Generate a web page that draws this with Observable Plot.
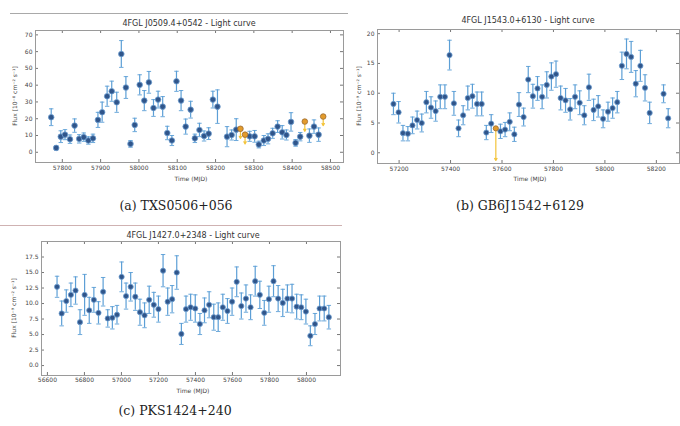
<!DOCTYPE html>
<html>
<head>
<meta charset="utf-8">
<script src="https://cdn.jsdelivr.net/npm/d3@7"></script>
<script src="https://cdn.jsdelivr.net/npm/@observablehq/plot@0.6"></script>
<style>
  html, body { margin: 0; padding: 0; background: #fff; }
  body { width: 680px; height: 426px; position: relative; overflow: hidden; font-family: "DejaVu Sans", sans-serif; }
  .abs { position: absolute; }
  .title { font-size: 8px; color: #333; white-space: nowrap; transform: translate(-50%, -50%); }
  .xlab { font-size: 6px; color: #444; white-space: nowrap; transform: translate(-50%, -50%); }
  .ylab { font-size: 6px; color: #444; white-space: nowrap; transform: translate(-50%, -50%) rotate(-90deg); }
  .cap { font-family: "DejaVu Serif", "Liberation Serif", serif; font-size: 12.5px; color: #222; white-space: nowrap; transform: translate(-50%, -50%); }
  .hline { height: 1px; }
</style>
</head>
<body>
<script>
// ---------- Panel (a): 4FGL J0509.4+0542 ----------
const aTime = [57771,57784,57796,57807,57820,57832,57844,57856,57868,57880,57893,57904,57917,57929,57942,57954,57966,57978,57989,58002,58014,58026,58038,58050,58062,58074,58086,58098,58110,58122,58135,58146,58158,58170,58182,58193,58205,58230,58242,58254,58289,58302,58313,58326,58337,58349,58362,58374,58385,58397,58409,58421,58445,58457,58469];
const aFlux = [20.9,2.6,9.3,10.5,7.8,15.9,8.0,9.0,7.0,8.3,19.3,23.9,33.4,36.4,29.8,58.6,38.6,5.0,16.3,40.2,30.8,41.7,26.4,31.4,27.2,11.5,7.0,42.3,30.8,15.3,25.4,8.3,13.3,9.7,11.1,31.4,27.2,9.3,10.3,13.5,9.5,9.5,4.6,7.0,8.0,11.3,15.3,11.9,10.3,18.1,5.6,9.3,9.9,15.3,10.5];
const aErr  = [5,1.2,3.5,3,2.5,4,2.5,2.5,2.2,2.5,4.5,6,6,6,6,8,6.5,2,4,6,6,6.5,5,5,6,4,3,6,6,4.5,5,2.5,4,3,3.5,5,10,6,3,6.5,3,3.5,2,3,3,3,3.5,4,3,5.5,2,2.5,4,4,4];
const aUlTime = [58265,58277,58433,58481];
const aUlFlux = [14.0,10.5,18.3,21.3];
const aUlEnd  = [8.3,5.0,12.5,15.9];
const aXTicks = [57800,57900,58000,58100,58200,58300,58400,58500];
const aYTicks = [0,10,20,30,40,50,60,70];

// ---------- Panel (b): 4FGL J1543.0+6130 ----------
const bTime = [57178,57198,57215,57234,57252,57270,57288,57306,57324,57342,57360,57378,57396,57413,57431,57449,57467,57485,57503,57521,57539,57558,57594,57612,57630,57648,57666,57684,57702,57720,57738,57756,57774,57792,57810,57828,57847,57865,57884,57902,57920,57938,57956,57974,57993,58012,58030,58048,58066,58084,58102,58120,58138,58156,58174,58228,58246];
const bFlux = [8.2,6.8,3.3,3.2,4.6,5.5,5.0,8.5,7.6,7.0,9.4,9.4,16.4,8.3,4.1,6.3,9.2,9.5,8.2,8.2,3.4,4.9,3.6,3.9,5.2,3.1,8.1,6.0,12.3,9.5,10.8,9.4,11.4,12.8,13.2,9.2,8.8,7.3,9.4,8.4,6.3,11.0,7.2,7.8,5.7,6.9,7.5,8.5,14.6,16.6,16.1,11.6,14.6,10.9,6.7,9.9,5.8];
const bErr  = [1.8,1.8,1.3,1.2,1.4,1.5,1.5,1.8,1.8,1.7,2.0,2.0,2.5,2.0,1.4,1.6,2.0,2.0,2.0,2.0,1.2,1.5,1.2,1.2,1.5,1.2,2.0,1.5,2.2,2.0,2.0,2.0,2.2,2.3,2.2,2.0,2.0,1.8,2.0,2.0,1.6,2.2,1.8,1.8,1.5,1.6,1.7,1.8,2.3,2.5,2.6,2.2,2.6,2.2,1.8,1.5,1.6];
const bUlTime = [57576];
const bUlFlux = [4.1];
const bUlEnd  = [-1.3];
const bXTicks = [57200,57400,57600,57800,58000,58200];
const bYTicks = [0,5,10,15,20];

// ---------- Panel (c): 4FGL J1427.0+2348 ----------
const cTime = [56652,56677,56702,56727,56752,56776,56801,56826,56851,56876,56901,56926,56951,56976,57001,57025,57050,57075,57100,57125,57150,57175,57200,57225,57250,57274,57299,57324,57349,57374,57399,57424,57449,57474,57499,57523,57548,57573,57598,57623,57648,57673,57698,57723,57748,57772,57797,57822,57847,57872,57897,57922,57947,57972,57997,58021,58046,58071,58096,58121];
const cFlux = [12.7,8.4,10.4,11.4,12.1,7.0,11.4,8.9,10.6,8.5,11.9,7.6,7.7,8.2,14.3,11.2,12.7,11.1,8.6,8.1,10.6,9.8,9.1,15.3,10.3,10.7,15.0,5.1,9.1,9.4,9.2,6.7,8.9,9.8,7.8,7.8,9.4,8.8,10.3,13.5,9.6,10.8,9.4,13.6,11.4,8.5,10.7,13.6,10.8,10.1,10.8,10.8,9.5,9.4,8.7,4.8,6.7,9.2,9.2,7.8];
const cErr  = [1.7,2.0,1.8,1.9,2.2,2.0,3.3,2.1,2.0,1.8,2.3,1.4,1.8,1.5,2.4,2.1,2.3,2.2,2.1,2.0,2.2,2.0,2.1,2.6,2.2,2.2,2.7,1.7,2.1,2.1,2.2,1.7,2.0,2.1,2.1,2.3,2.1,2.0,2.2,2.4,2.1,2.2,2.0,2.4,2.2,2.0,2.1,2.5,2.1,2.2,2.2,2.3,2.0,2.0,2.0,1.6,1.7,2.0,2.0,1.9];
const cXTicks = [56600,56800,57000,57200,57400,57600,57800,58000];
const cYTicks = [0,2.5,5,7.5,10,12.5,15,17.5];

// ---------- drawing ----------
const BAR = "#5c9fd6", DOT = "#30558a", DOTEDGE = "#6e9fd2", TICK = "#777", FRAME = "#9a9a9a";
const ULDOT = "#e39b2b", ULEDGE = "#9a6a30", ULLINE = "#f3c43a";
const capSymbol = { draw(ctx, size) { const w = Math.sqrt(size); ctx.moveTo(-w, 0); ctx.lineTo(w, 0); } };

function add(cls, x, y, html) {
  const d = document.createElement("div");
  d.className = "abs " + cls;
  d.style.left = x + "px"; d.style.top = y + "px";
  d.innerHTML = html;
  document.body.appendChild(d);
  return d;
}

function panel(cfg) {
  const data = cfg.time.map((t, i) => ({t, f: cfg.flux[i], e: cfg.err[i]}));
  const ul = (cfg.ulTime || []).map((t, i) => ({t, f: cfg.ulFlux[i], g: cfg.ulEnd[i]}));
  const innerW = cfg.width - cfg.ml - cfg.mr;
  const innerH = cfg.height - cfg.mt - cfg.mb;
  const marks = [
    Plot.tickX(cfg.xTicks, {x: d => d, stroke: TICK, insetTop: innerH - 3}),
    Plot.tickX(cfg.xTicks, {x: d => d, stroke: TICK, insetBottom: innerH - 3}),
    Plot.tickY(cfg.yTicks, {y: d => d, stroke: TICK, insetRight: innerW - 3}),
    Plot.tickY(cfg.yTicks, {y: d => d, stroke: TICK, insetLeft: innerW - 3}),
    Plot.ruleX(data, {x: "t", y1: d => d.f - d.e, y2: d => d.f + d.e, stroke: BAR, strokeWidth: 1.2}),
    Plot.dot(data, {x: "t", y: d => d.f + d.e, symbol: capSymbol, r: 1.25, stroke: BAR, strokeWidth: 0.9, fill: "none"}),
    Plot.dot(data, {x: "t", y: d => d.f - d.e, symbol: capSymbol, r: 1.25, stroke: BAR, strokeWidth: 0.9, fill: "none"}),
    Plot.dot(data, {x: "t", y: "f", r: cfg.r, fill: DOT, stroke: DOTEDGE, strokeWidth: 0.8}),
    Plot.arrow(ul, {x1: "t", y1: "f", x2: "t", y2: "g", stroke: ULLINE, strokeWidth: 1.2, headLength: 3}),
    Plot.dot(ul, {x: "t", y: "f", r: cfg.r, fill: ULDOT, stroke: ULEDGE, strokeWidth: 0.8}),
    Plot.frame({stroke: FRAME})
  ];
  const svg = Plot.plot({
    width: cfg.width, height: cfg.height,
    marginLeft: cfg.ml, marginRight: cfg.mr, marginTop: cfg.mt, marginBottom: cfg.mb,
    style: {fontFamily: "DejaVu Sans, sans-serif", fontSize: "6px", color: "#444", background: "transparent", overflow: "visible"},
    x: {domain: cfg.xDomain, ticks: cfg.xTicks, tickSize: 0, tickPadding: cfg.xPad, tickFormat: d => String(d), label: null},
    y: {domain: cfg.yDomain, ticks: cfg.yTicks, tickSize: 0, tickPadding: 3, tickFormat: cfg.yFormat, label: null},
    marks
  });
  const wrap = document.createElement("div");
  wrap.className = "abs";
  wrap.style.left = cfg.left + "px"; wrap.style.top = cfg.top + "px";
  wrap.appendChild(svg);
  document.body.appendChild(wrap);
}

// decorative rules at the top of the left column
add("hline", 10, 13, "").style.cssText += "width:338px;background:#a9a9a9;";
add("hline", 0, 225, "").style.cssText += "width:342px;background:#cfb2b2;";

panel({time: aTime, flux: aFlux, err: aErr, ulTime: aUlTime, ulFlux: aUlFlux, ulEnd: aUlEnd,
  xTicks: aXTicks, yTicks: aYTicks, xDomain: [57730, 58534], yDomain: [-6.1, 72.6], yFormat: d => String(d),
  left: 0, top: 15, width: 350, height: 175, ml: 35, mr: 7, mt: 15, mb: 28, xPad: 3, r: 2.8});
panel({time: bTime, flux: bFlux, err: bErr, ulTime: bUlTime, ulFlux: bUlFlux, ulEnd: bUlEnd,
  xTicks: bXTicks, yTicks: bYTicks, xDomain: [57116, 58290], yDomain: [-1.8, 20.7], yFormat: d => String(d),
  left: 340, top: 12, width: 340, height: 178, ml: 37, mr: 1, mt: 17, mb: 27, xPad: 3, r: 2.6});
panel({time: cTime, flux: cFlux, err: cErr,
  xTicks: cXTicks, yTicks: cYTicks, xDomain: [56568, 58184], yDomain: [-1.6, 20], yFormat: d3.format(".1f"),
  left: 0, top: 230, width: 345, height: 170, ml: 41, mr: 5, mt: 11, mb: 25, xPad: 2, r: 2.6});

// titles
add("title", 189, 23, "4FGL J0509.4+0542 - Light curve");
add("title", 528, 20, "4FGL J1543.0+6130 - Light curve");
add("title", 193, 235, "4FGL J1427.0+2348 - Light curve");
// axis labels
add("xlab", 191, 178, "Time (MJD)");
add("xlab", 530, 178, "Time (MJD)");
add("xlab", 193, 390, "Time (MJD)");
add("ylab", 14, 96, "Flux [10⁻⁸ cm⁻² s⁻¹]");
add("ylab", 358, 96, "Flux [10⁻⁹ cm⁻² s⁻¹]");
add("ylab", 13, 308, "Flux [10⁻⁹ cm⁻² s⁻¹]");
// captions
add("cap", 176, 205, "(a) TXS0506+056");
add("cap", 520, 205, "(b) GB6J1542+6129");
add("cap", 175, 410, "(c) PKS1424+240");
</script>
</body>
</html>
